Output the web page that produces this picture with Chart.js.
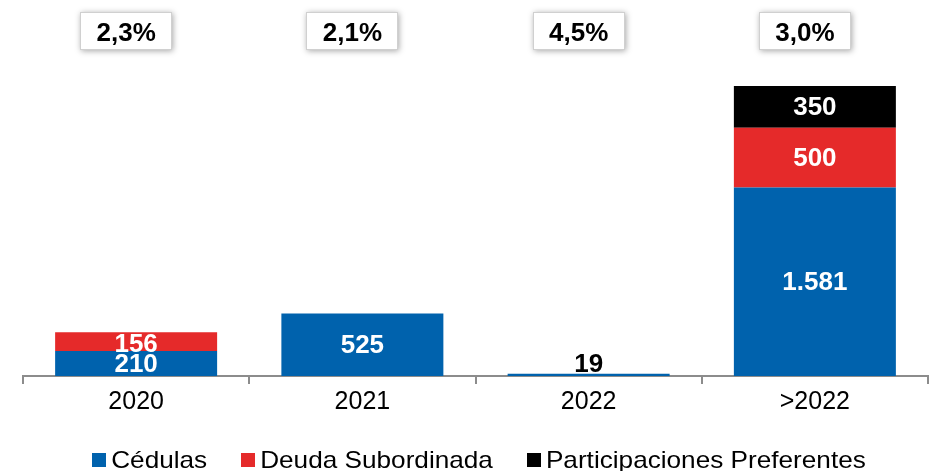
<!DOCTYPE html>
<html>
<head>
<meta charset="utf-8">
<script src="https://cdn.jsdelivr.net/npm/chart.js@4/dist/chart.umd.min.js"></script>
<style>
html,body{margin:0;padding:0;background:#fff;}
canvas{display:block;}
</style>
</head>
<body>
<canvas id="c" width="937" height="471"></canvas>
<script>
const categories = ['2020', '2021', '2022', '>2022'];
const cedulas = [210, 525, 19, 1581];
const deudaSubordinada = [156, 0, 0, 500];
const participaciones = [0, 0, 0, 350];
const percentLabels = ['2,3%', '2,1%', '4,5%', '3,0%'];
const seriesNames = ['Cédulas', 'Deuda Subordinada', 'Participaciones Preferentes'];
const seriesColors = ['#0062AD', '#E52A2A', '#000000'];

const FONT = '"Liberation Sans", Arial, sans-serif';

function fmt(v) {
  return v.toString().replace(/\B(?=(\d{3})+(?!\d))/g, '.');
}

const overlayPlugin = {
  id: 'overlay',
  afterDatasetsDraw(chart) {
    const ctx = chart.ctx;
    ctx.save();
    ctx.font = 'bold 26px ' + FONT;
    ctx.textAlign = 'center';
    ctx.textBaseline = 'middle';
    chart.data.datasets.forEach((ds, di) => {
      const meta = chart.getDatasetMeta(di);
      meta.data.forEach((el, i) => {
        const v = ds.data[i];
        if (!v) return;
        const top = Math.min(el.y, el.base), bot = Math.max(el.y, el.base);
        const h = bot - top;
        if (h < 12) {
          ctx.fillStyle = '#000';
          ctx.fillText(fmt(v), el.x, top - 9);
        } else {
          ctx.fillStyle = '#fff';
          const off = h < 22 ? 3 : 1;
          ctx.fillText(fmt(v), el.x, (top + bot) / 2 + off);
        }
      });
    });
    ctx.restore();
  },
  afterDraw(chart) {
    const ctx = chart.ctx;
    const xs = chart.scales.x;
    percentLabels.forEach((t, i) => {
      const cx = xs.getPixelForValue(i) - 10;
      const w = 92, h = 38, y = 12;
      const x = Math.round(cx - w / 2);
      ctx.save();
      ctx.shadowColor = 'rgba(0,0,0,0.35)';
      ctx.shadowBlur = 6;
      ctx.shadowOffsetX = 1;
      ctx.shadowOffsetY = 1;
      ctx.fillStyle = '#fff';
      ctx.fillRect(x, y, w, h);
      ctx.restore();
      ctx.save();
      ctx.strokeStyle = '#a0a0a0';
      ctx.lineWidth = 1;
      ctx.setLineDash([1, 1]);
      ctx.strokeRect(x + 0.5, y + 0.5, w - 1, h - 1);
      ctx.restore();
      ctx.save();
      ctx.fillStyle = '#000';
      ctx.font = 'bold 26px ' + FONT;
      ctx.textAlign = 'center';
      ctx.textBaseline = 'alphabetic';
      ctx.fillText(t, cx, y + 29);
      ctx.restore();
    });
    // legend
    ctx.save();
    ctx.font = '24px ' + FONT;
    ctx.textBaseline = 'alphabetic';
    ctx.textAlign = 'left';
    const stretch = 1.09;
    const box = 14, gapText = 5, gapItem = 34;
    const widths = seriesNames.map(n => ctx.measureText(n).width * stretch);
    const total = widths.reduce((a, b) => a + b, 0) + seriesNames.length * (box + gapText) + (seriesNames.length - 1) * gapItem;
    let x = 479 - total / 2;
    seriesNames.forEach((n, i) => {
      ctx.fillStyle = seriesColors[i];
      ctx.fillRect(Math.round(x), 453, box, box);
      ctx.fillStyle = '#000';
      ctx.save();
      ctx.translate(x + box + gapText, 468);
      ctx.scale(stretch, 1);
      ctx.fillText(n, 0, 0);
      ctx.restore();
      x += box + gapText + widths[i] + gapItem;
    });
    ctx.restore();
  }
};

new Chart(document.getElementById('c'), {
  type: 'bar',
  data: {
    labels: categories,
    datasets: [
      { label: seriesNames[0], data: cedulas, backgroundColor: seriesColors[0] },
      { label: seriesNames[1], data: deudaSubordinada, backgroundColor: seriesColors[1] },
      { label: seriesNames[2], data: participaciones, backgroundColor: seriesColors[2] }
    ]
  },
  options: {
    responsive: false,
    animation: false,
    devicePixelRatio: 1,
    layout: { padding: { top: 54, left: 23, right: 9, bottom: 0 } },
    datasets: { bar: { barPercentage: 0.716, categoryPercentage: 1, borderWidth: 0 } },
    plugins: { legend: { display: false }, tooltip: { enabled: false } },
    scales: {
      x: {
        stacked: true,
        grid: { display: true, drawOnChartArea: false, drawTicks: true, tickLength: 8, lineWidth: 2, color: '#8c8c8c', offset: true },
        border: { display: true, color: '#8c8c8c', width: 2 },
        ticks: { color: '#000', font: { family: FONT, size: 25 }, padding: 3 },
        afterFit(scale) { scale.height = 95; }
      },
      y: {
        stacked: true,
        display: false,
        min: 0,
        max: 2700
      }
    }
  },
  plugins: [overlayPlugin]
});
</script>
</body>
</html>
